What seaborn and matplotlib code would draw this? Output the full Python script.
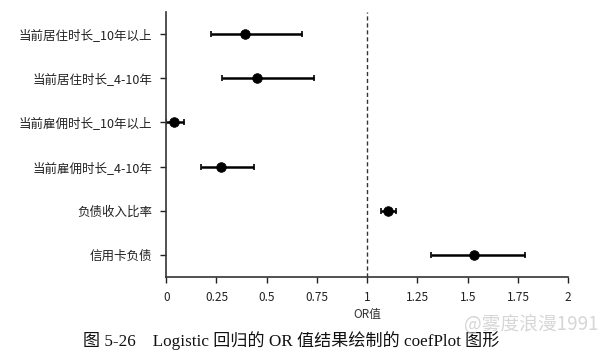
import pandas as pd
import numpy as np
import matplotlib
matplotlib.use('Agg')
import matplotlib.pyplot as plt
import seaborn as sns

# variables and their OR values with 95% confidence limits
variables = ['当前居住时长_10年以上', '当前居住时长_4-10年', '当前雇佣时长_10年以上',
             '当前雇佣时长_4-10年', '负债收入比率', '信用卡负债']
odds_ratio = [0.39, 0.45, 0.04, 0.275, 1.105, 1.53]
ci_low = [0.225, 0.28, 0.0, 0.175, 1.07, 1.315]
ci_high = [0.675, 0.735, 0.09, 0.435, 1.145, 1.785]
xticks = [0, 0.25, 0.5, 0.75, 1, 1.25, 1.5, 1.75, 2]

sns.set_style('ticks')
plt.rcParams['font.family'] = ['Noto Sans CJK SC', 'DejaVu Sans']
plt.rcParams['axes.unicode_minus'] = False

df = pd.DataFrame({'var': variables, 'OR': odds_ratio, 'lo': ci_low, 'hi': ci_high})

fig = plt.figure(figsize=(6, 3.53), dpi=100)
ax = fig.add_axes([0.277, 0.215, 0.67, 0.751])

# confidence intervals
ypos = np.arange(len(df))
ax.errorbar(df['OR'], ypos,
            xerr=[df['OR'] - df['lo'], df['hi'] - df['OR']],
            fmt='none', ecolor='black', elinewidth=1.8, capsize=2, capthick=1.2, zorder=2)
# point estimates
sns.scatterplot(data=df, x='OR', y='var', ax=ax, color='black', s=48,
                edgecolor='black', zorder=3, legend=False)

ax.axvline(1, color='#333333', linestyle=(0, (3, 2)), linewidth=1)

ax.set_xlim(0, 2)
ax.set_ylim(len(df) - 0.5, -0.5)
ax.set_xticks(xticks)
ax.set_xticklabels([f'{t:g}' for t in xticks])
ax.set_xlabel('OR值', fontsize=8.5, color='#333333', labelpad=3)
ax.set_ylabel('')
ax.tick_params(axis='both', colors='#222222', length=4, width=1)
ax.tick_params(axis='y', labelsize=9, pad=6)
ax.tick_params(axis='x', labelsize=8.5, pad=6)
for s in ['top', 'right']:
    ax.spines[s].set_visible(False)
for s in ['left', 'bottom']:
    ax.spines[s].set_linewidth(1.2)
    ax.spines[s].set_color('#333333')

# caption and watermark
fig.text(0.485, 0.035, '图 5-26    Logistic 回归的 OR 值结果绘制的 coefPlot 图形',
         ha='center', va='center', fontsize=12.3,
         family=['Liberation Serif', 'Noto Sans CJK SC'], color='#111111')
fig.text(0.998, 0.08, '@雾度浪漫1991', ha='right', va='center', fontsize=13.5,
         color='#cccccc', alpha=0.8)

fig.savefig('out.png', dpi=100)
